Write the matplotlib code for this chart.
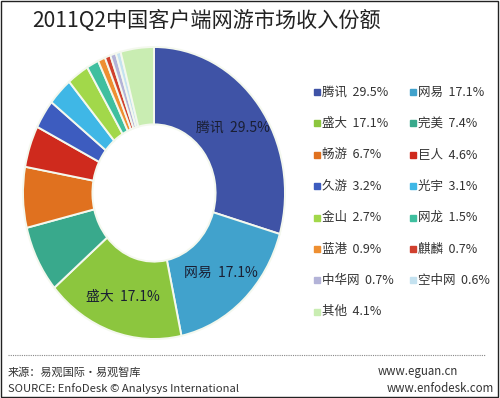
import numpy as np
import matplotlib
matplotlib.use('Agg')
import matplotlib.pyplot as plt
from matplotlib.patches import Rectangle

plt.rcParams['font.family'] = ['Noto Sans CJK SC', 'DejaVu Sans']

# data
companies = ['腾讯', '网易', '盛大', '完美', '畅游', '巨人', '久游', '光宇',
             '金山', '网龙', '蓝港', '麒麟', '中华网', '空中网', '其他']
shares = [29.5, 17.1, 17.1, 7.4, 6.7, 4.6, 3.2, 3.1,
          2.7, 1.5, 0.9, 0.7, 0.7, 0.6, 4.1]
colors = ['#3f53a6', '#41a2cc', '#8cc63e', '#39a98c', '#e0711f', '#cf2a1d',
          '#3d5cbf', '#3fb7e6', '#a2d84a', '#3fbf9f', '#ee8f31', '#d0402e',
          '#b3b3d8', '#c4e2f0', '#c9edb2']
inside_labels = ['腾讯', '网易', '盛大']

fig = plt.figure(figsize=(5.0, 3.98), dpi=100)
W, H = 500, 398

def fx(px):
    return px / W

def fy(py):
    return 1 - py / H

# donut
ax = fig.add_axes([fx(23), fy(339), fx(262), 292 / H])
wedges, _ = ax.pie(shares, colors=colors, startangle=90, counterclock=False,
                   radius=1.0,
                   wedgeprops=dict(width=0.53, edgecolor='#f4f8ee', linewidth=1.4))
ax.set_aspect('auto')
ax.set_xlim(-1, 1)
ax.set_ylim(-1, 1)
ax.axis('off')

for w, name, val in zip(wedges, companies, shares):
    if name in inside_labels:
        mid = np.deg2rad((w.theta1 + w.theta2) / 2)
        ax.text(0.75 * np.cos(mid), 0.75 * np.sin(mid), f'{name}  {val}%',
                ha='center', va='center', fontsize=10, color='#1a1f33')

# title
fig.text(fx(32), fy(21), '2011Q2中国客户端网游市场收入份额', fontsize=15.2,
         color='#222222', ha='left', va='center')

# legend, row by row
row_y0, row_step = 92, 31.4
col_x = [317, 413]
for i, (name, val, c) in enumerate(zip(companies, shares, colors)):
    r, col = divmod(i, 2)
    y = row_y0 + r * row_step
    x = col_x[col]
    fig.add_artist(Rectangle((fx(x - 3), fy(y + 3)), fx(6), 6 / H,
                             transform=fig.transFigure, color=c))
    fig.text(fx(x + 5), fy(y), f'{name}  {val}%', fontsize=9,
             color='#333333', ha='left', va='center')

# footer
fig.add_artist(plt.Line2D([fx(8), fx(485)], [fy(355), fy(355)],
                          transform=fig.transFigure, color='#888888',
                          linewidth=0.8, linestyle=(0, (1, 1))))
fig.text(fx(8), fy(372), '来源：易观国际·易观智库', fontsize=8,
         color='#333333', ha='left', va='center')
fig.text(fx(8), fy(389), 'SOURCE: EnfoDesk © Analysys International',
         fontsize=8.1, color='#333333', ha='left', va='center')
fig.text(fx(458), fy(372), 'www.eguan.cn', fontsize=8.3,
         color='#333333', ha='right', va='center')
fig.text(fx(494), fy(389), 'www.enfodesk.com', fontsize=8.3,
         color='#333333', ha='right', va='center')

# outer frame
fig.add_artist(Rectangle((0.002, 0.003), 0.994, 0.994, transform=fig.transFigure,
                         fill=False, edgecolor='#222222', linewidth=1.0))

fig.savefig('out.png', dpi=100)
